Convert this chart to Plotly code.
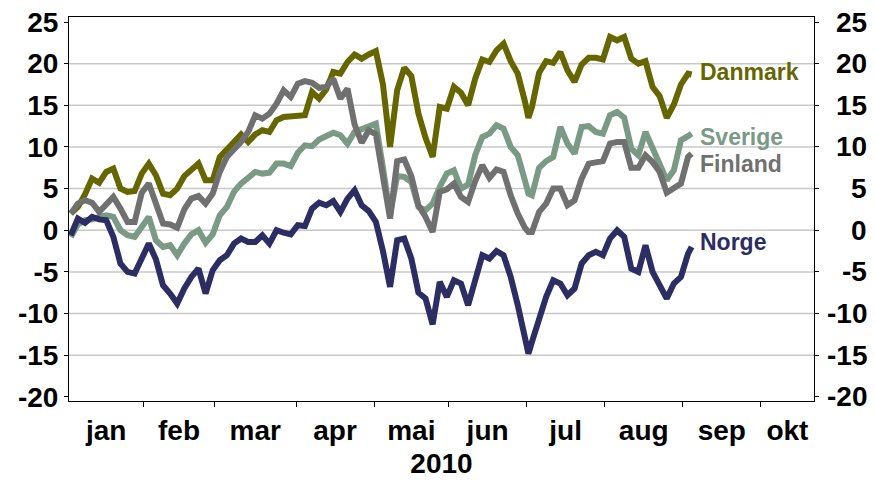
import plotly.graph_objects as go
import pandas as pd

# business days shown on the axis (Excel category axis: jan 1 - okt 21, 2010)
days = pd.bdate_range("2010-01-01", "2010-10-21")
month_names = ["jan", "feb", "mar", "apr", "mai", "jun", "jul", "aug", "sep", "okt"]

day_idx = list(range(0, 129, 2)) + [129] + list(range(130, 175, 2)) + [175]

danmark = [
    2.0, 2.8, 4.3, 6.2, 5.7, 7.0, 7.4, 5.0, 4.6, 4.7,
    6.8, 8.0, 6.6, 4.4, 4.2, 5.0, 6.5, 7.3, 8.0, 6.0,
    6.0, 8.8, 9.6, 10.6, 11.5, 10.6, 11.5, 12.0, 11.8, 13.2,
    13.6, 13.7, 13.8, 13.8, 16.6, 15.8, 16.9, 19.0, 18.8, 20.2,
    21.1, 20.6, 21.1, 21.5, 17.5, 10.0, 16.8, 19.5, 18.5, 14.0,
    11.1, 8.8, 14.8, 14.6, 17.2, 16.5, 15.0, 18.2, 20.5, 20.2,
    21.6, 22.4, 20.3, 18.8, 15.5, 13.5, 14.8, 18.9, 20.3, 20.1,
    21.4, 19.2, 17.8, 19.9, 20.7, 20.7, 20.5, 23.2, 22.8, 23.2,
    20.6, 20.0, 20.3, 17.2, 16.1, 13.5, 15.1, 17.5, 18.8, 18.7,
]
sverige = [
    -0.8, 0.7, 1.2, 1.3, 1.6, 1.8, 1.6, 0.0, -0.6, -0.8,
    0.4, 1.6, -1.2, -2.0, -1.8, -3.0, -1.6, -0.5, 0.0, -1.5,
    -0.5, 1.8, 2.8, 4.6, 5.6, 6.2, 7.0, 6.8, 6.9, 8.0,
    8.0, 7.7, 9.3, 10.2, 10.1, 10.9, 11.4, 11.7, 11.4, 10.4,
    11.8, 12.2, 12.5, 12.8, 7.5, 1.8, 6.5, 6.4, 5.8, 2.8,
    2.4, 3.2, 5.2, 6.8, 7.2, 5.0, 5.5, 9.0, 11.2, 11.6,
    12.6, 12.2, 10.0, 9.0, 6.0, 4.4, 4.2, 7.5, 8.3, 8.8,
    12.4, 10.4, 9.2, 12.4, 12.5, 11.8, 11.6, 13.8, 14.2, 13.5,
    9.8, 9.0, 11.8, 10.0, 7.8, 6.0, 7.2, 10.8, 11.3, 11.6,
]
finland = [
    2.0, 3.2, 3.6, 3.3, 2.2, 3.2, 4.0, 2.6, 1.0, 1.0,
    4.5, 5.6, 3.0, 0.8, 0.7, 0.3, 2.5, 3.8, 4.1, 3.2,
    4.4, 7.0, 8.8, 9.6, 10.6, 11.8, 13.8, 13.4, 14.0, 15.2,
    16.8, 16.0, 17.6, 17.9, 17.7, 17.1, 17.2, 18.2, 15.8, 17.0,
    12.7, 10.5, 12.0, 11.5, 6.5, 1.4, 8.3, 8.5, 6.5, 3.0,
    1.6, -0.2, 4.6, 4.9, 5.6, 4.0, 3.4, 5.9, 7.8, 6.3,
    7.3, 7.0, 4.2, 2.0, 0.3, -0.2, -0.2, 2.2, 3.2, 5.0,
    5.0, 3.0, 3.6, 6.2, 8.0, 8.2, 8.3, 10.4, 10.6, 10.6,
    7.5, 7.5, 9.0, 8.2, 7.0, 4.5, 5.1, 5.6, 8.8, 9.2,
]
norge = [
    -0.6, 1.4, 0.9, 1.6, 1.3, 1.2, -0.8, -4.0, -5.0, -5.2,
    -3.4, -1.6, -3.5, -6.6, -7.6, -8.8, -7.0, -5.6, -4.6, -7.6,
    -4.8, -3.6, -3.0, -1.6, -1.0, -1.4, -1.4, -0.6, -1.6, 0.0,
    -0.3, -0.5, 0.6, 0.5, 2.6, 3.3, 3.0, 3.5, 2.2, 3.8,
    4.8, 3.0, 2.3, 1.0, -2.5, -6.8, -1.2, -1.0, -3.4, -7.5,
    -8.2, -11.3, -6.2, -8.0, -6.0, -6.4, -9.0, -6.0, -3.0, -3.4,
    -2.5, -3.0, -5.6, -9.0, -12.8, -14.8, -13.4, -10.5, -8.0, -6.0,
    -6.4, -7.8, -7.0, -4.0, -3.0, -2.6, -3.0, -1.0, 0.0, -0.8,
    -4.6, -5.0, -1.8, -5.0, -6.5, -8.2, -6.4, -5.6, -2.8, -2.0,
]

y_ticks = [-20, -15, -10, -5, 0, 5, 10, 15, 20, 25]
grid_vals = [-15, -10, -5, 0, 5, 10, 15, 20]

series = [
    # name, values, colour, label y-shift
    ("Danmark", danmark, "#666600", 2),
    ("Sverige", sverige, "#7A9A86", -3),
    ("Finland", finland, "#707070", -10),
    ("Norge", norge, "#2B2D63", 5),
]

# month boundaries and centres on the business-day axis
pos = pd.Series(range(len(days)), index=days)
groups = pos.groupby(days.month)
starts = groups.min() - 0.5
ends = groups.max() + 0.5
centers = list((starts + ends) / 2)
bounds = list(starts)[1:]

FONT = "Arial, Liberation Sans, sans-serif"

fig = go.Figure()

for g in grid_vals:
    fig.add_hline(y=g, line=dict(color="#C8C8C8", width=1.5), layer="below")

for name, vals, color, dy in series:
    fig.add_trace(go.Scatter(x=day_idx, y=vals, mode="lines", name=name,
                             line=dict(color=color, width=6), hoverinfo="skip"))
    fig.add_annotation(x=day_idx[-1], y=vals[-1], text=f"<b>{name}</b>", showarrow=False,
                       xanchor="left", xshift=6, yshift=dy, font=dict(size=23, color=color))

# right-hand labels are right aligned in the original, so draw them as text
for v in y_ticks:
    fig.add_annotation(x=1.0738, xref="paper", y=v, yref="y", text=f"<b>{v}</b>",
                       showarrow=False, xanchor="right", font=dict(size=28, color="black"))

fig.update_xaxes(
    range=[-0.5, len(days) - 0.5], tickvals=centers, ticktext=month_names, ticks="",
    tickfont=dict(size=28, weight="bold"), showgrid=False, zeroline=False,
    showline=True, linecolor="black", linewidth=1, mirror=True, automargin=False,
    ticklabelstandoff=4,
    minor=dict(tickvals=bounds, ticks="outside", ticklen=5, tickcolor="black", showgrid=False),
    title=dict(text="2010", font=dict(size=28, weight="bold"), standoff=8),
)
fig.update_yaxes(
    range=[-20.5, 25.6], tickvals=y_ticks, ticktext=[str(v) for v in y_ticks],
    ticks="outside", ticklen=4, tickcolor="black", automargin=False,
    tickfont=dict(size=28, weight="bold"), showgrid=False, zeroline=False,
    showline=True, linecolor="black", linewidth=1, mirror="ticks",
)
fig.update_layout(
    width=875, height=482,
    margin=dict(l=69, r=61, t=17, b=81),
    plot_bgcolor="white", paper_bgcolor="white",
    showlegend=False,
    font=dict(family=FONT, color="black"),
)

# the page's default body margin would push the chart 8px off the window
fig.write_html("out.html", config={"displayModeBar": False},
               post_script="document.body.style.margin = '0';")
